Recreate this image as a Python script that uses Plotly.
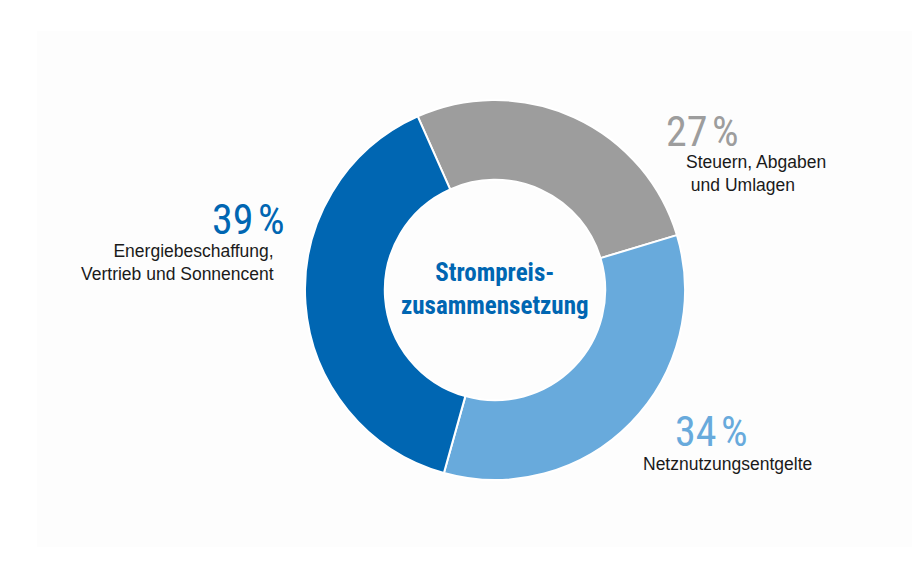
import plotly.graph_objects as go

W, H = 920, 580
OFF = 8  # page body margin

labels = ["Steuern, Abgaben und Umlagen", "Netznutzungsentgelte", "Energiebeschaffung, Vertrieb und Sonnencent"]
values = [27, 34, 39]
colors = ["#9d9d9d", "#68aadc", "#0066b2"]
pct_text = ["27\u200a%", "34\u200a%", "39\u200a%"]
desc_lines = [["Steuern, Abgaben", " und Umlagen"], ["Netznutzungsentgelte"], ["Energiebeschaffung,", "Vertrieb und Sonnencent"]]
center_title = ["Strompreis-", "zusammensetzung"]

def px(x):
    return (x - OFF) / W

def py(y):
    return 1 - (y - OFF) / H

fig = go.Figure()
fig.add_trace(go.Pie(
    labels=labels, values=values, sort=False, direction="clockwise", rotation=-24,
    hole=0.58, marker=dict(colors=colors, line=dict(color="white", width=2)),
    textinfo="none", hoverinfo="label+percent", showlegend=False,
    domain=dict(x=[px(305), px(685)], y=[py(480), py(100)]),
))

narrow = "Roboto Condensed, Liberation Sans Narrow, Arial Narrow, sans-serif"
reg = "Liberation Sans, Arial, Helvetica, sans-serif"

ann = []
# 27 %
ann.append(dict(x=px(664), y=py(131), text=pct_text[0], xanchor="left", yanchor="middle",
                font=dict(family=narrow, size=42, color=colors[0], weight=400)))
ann.append(dict(x=px(684), y=py(173), text="<br>".join(desc_lines[0]), xanchor="left", yanchor="middle", align="left",
                font=dict(family=reg, size=17.5, color="#1a1a1a")))
# 34 %
ann.append(dict(x=px(673), y=py(431), text=pct_text[1], xanchor="left", yanchor="middle",
                font=dict(family=narrow, size=42, color=colors[1], weight=400)))
ann.append(dict(x=px(641), y=py(464), text=desc_lines[1][0], xanchor="left", yanchor="middle",
                font=dict(family=reg, size=17.5, color="#1a1a1a")))
# 39 %
ann.append(dict(x=px(286), y=py(219), text=pct_text[2], xanchor="right", yanchor="middle",
                font=dict(family=narrow, size=42, color=colors[2], weight=400)))
ann.append(dict(x=px(276), y=py(262), text="<br>".join(desc_lines[2]), xanchor="right", yanchor="middle", align="right",
                font=dict(family=reg, size=17.5, color="#1a1a1a")))
# center
ann.append(dict(x=px(495), y=py(289), text="<b>" + "<br>".join(center_title) + "</b>", xanchor="center", yanchor="middle",
                align="center", font=dict(family=narrow, size=25, color="#0066b2")))

for a in ann:
    a.update(xref="paper", yref="paper", showarrow=False)

fig.update_layout(
    width=W, height=H, margin=dict(l=0, r=0, t=0, b=0),
    paper_bgcolor="white", plot_bgcolor="white",
    annotations=ann,
    shapes=[dict(type="rect", xref="paper", yref="paper", x0=px(37), x1=1, y0=py(547), y1=py(31),
                 fillcolor="#fdfdfd", line=dict(width=0), layer="below")],
)

fig.write_html("out.html")
